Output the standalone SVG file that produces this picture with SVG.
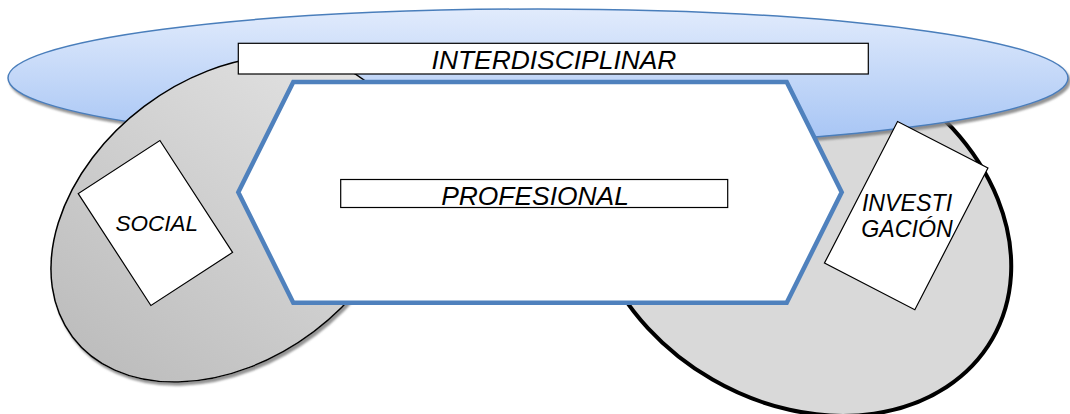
<svg xmlns="http://www.w3.org/2000/svg" width="1070" height="414" viewBox="0 0 1070 414">
<defs>
  <linearGradient id="gBlue" x1="0" y1="0" x2="0" y2="1">
    <stop offset="0" stop-color="#e1ebfc"/>
    <stop offset="1" stop-color="#a4c3f4"/>
  </linearGradient>
  <linearGradient id="gGray" x1="0" y1="0.6" x2="1" y2="0.4">
    <stop offset="0" stop-color="#bdbdbd"/>
    <stop offset="1" stop-color="#e2e2e2"/>
  </linearGradient>
  <filter id="sh" x="-5%" y="-10%" width="112%" height="125%">
    <feGaussianBlur in="SourceAlpha" stdDeviation="1.2"/>
    <feOffset dx="1.5" dy="3" result="o"/>
    <feFlood flood-color="#7a7a7a" flood-opacity="0.8"/>
    <feComposite in2="o" operator="in"/>
    <feMerge><feMergeNode/><feMergeNode in="SourceGraphic"/></feMerge>
  </filter>
</defs>
<style>
  .lbl{font-family:"Liberation Sans",Arial,sans-serif;font-style:italic;fill:#000;text-anchor:middle}
  .box{fill:#fff;stroke:#000;stroke-width:1.2}
</style>
<rect width="1070" height="414" fill="#fff"/>
<g id="investigacion-area">
  <ellipse cx="800" cy="228" rx="222" ry="175" transform="rotate(30 800 228)" fill="#d9d9d9" stroke="#000" stroke-width="4"/>
</g>
<g id="interdisciplinar-area" filter="url(#sh)">
  <ellipse cx="538" cy="78" rx="530" ry="69" fill="url(#gBlue)" stroke="#4a7ebb" stroke-width="1.5"/>
</g>
<g id="social-area" filter="url(#sh)">
  <ellipse cx="229" cy="219" rx="196" ry="141" transform="rotate(-37 229 219)" fill="url(#gGray)" stroke="#000" stroke-width="1.5"/>
</g>
<g id="interdisciplinar">
  <rect class="box" x="238.3" y="43.3" width="630" height="30.7" stroke="#222" stroke-width="1.4"/>
  <text class="lbl" x="554" y="69" font-size="26.4">INTERDISCIPLINAR</text>
</g>
<g id="profesional">
  <polygon points="293.3,82 786.7,82 841.7,192.3 786.7,302.7 293.3,302.7 238.3,192.3" fill="#fff" stroke="#4f81bd" stroke-width="4.5" stroke-linejoin="miter"/>
  <rect class="box" x="340.7" y="179.5" width="387" height="28"/>
  <text class="lbl" x="535" y="205" font-size="26.4">PROFESIONAL</text>
</g>
<g id="social">
  <rect class="box" x="-48.7" y="-66.7" width="97.4" height="133.4" transform="translate(155.4 223) rotate(-33)"/>
  <text class="lbl" x="156.7" y="231" font-size="22.5">SOCIAL</text>
</g>
<g id="investigacion">
  <rect class="box" x="-50.85" y="-79.7" width="101.7" height="159.4" transform="translate(906.2 215.6) rotate(27.3)"/>
  <text class="lbl" font-size="23.2"><tspan x="907" y="210.7">INVESTI</tspan><tspan x="907" y="236.7">GACIÓN</tspan></text>
</g>
<g id="connectors"/>
</svg>
